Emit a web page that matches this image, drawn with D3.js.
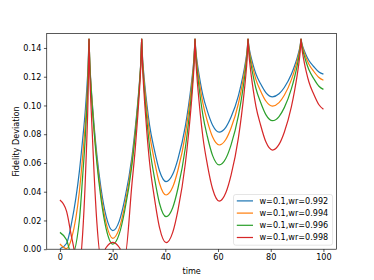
<!DOCTYPE html>
<html><head><meta charset="utf-8">
<script src="https://cdn.jsdelivr.net/npm/d3@7"></script>
<style>html,body{margin:0;padding:0;background:#fff;}</style>
</head><body><div id="chart"></div>
<script>
// ---- data ----
const times = [
 0, 2.5, 4.5, 7.37, 8.6, 9.57, 10.18, 10.67, 11.04,
 11.34, 11.74, 12.24, 13.04, 14.04, 15.55, 17.55, 20.05,
 22.55, 24.55, 27.36, 28.59, 29.56, 30.17, 30.66, 31.03,
 31.33, 31.73, 32.23, 33.03, 34.03, 35.8, 37.8, 40.3,
 42.8, 44.8, 47.6, 48.83, 49.8, 50.41, 50.9, 51.27,
 51.57, 51.97, 52.47, 53.27, 54.27, 55.95, 57.95, 60.45,
 62.95, 64.95, 67.72, 68.95, 69.92, 70.53, 71.02, 71.39,
 71.69, 72.09, 72.59, 73.39, 74.39, 76.15, 78.15, 80.65,
 83.15, 85.15, 87.83, 89.06, 90.03, 90.64, 91.13, 91.5,
 91.8, 92.2, 92.7, 93.5, 94.5, 96.3, 98.3, 100
];
const peakTimes = [11.04, 31.03, 51.27, 71.39, 91.5];

const wr0992 = [
 0.0003, 0.004, 0.019, 0.054, 0.076, 0.095, 0.111, 0.127, 0.1464,
 0.1297, 0.1162, 0.1027, 0.0845, 0.0654, 0.0429, 0.0228, 0.0129,
 0.0197, 0.0343, 0.0647, 0.0842, 0.1025, 0.1160, 0.1293, 0.1464,
 0.1340, 0.1239, 0.1139, 0.1003, 0.0861, 0.0694, 0.0544, 0.047,
 0.0521, 0.0629, 0.0856, 0.1001, 0.1137, 0.1237, 0.1337, 0.1464,
 0.1383, 0.1317, 0.1252, 0.1163, 0.1070, 0.0961, 0.0863, 0.0815,
 0.0848, 0.0919, 0.1067, 0.1162, 0.1250, 0.1316, 0.1381, 0.1464,
 0.1414, 0.1373, 0.1332, 0.1277, 0.1219, 0.1151, 0.1090, 0.106,
 0.1081, 0.1125, 0.1217, 0.1276, 0.1331, 0.1372, 0.1412, 0.1464,
 0.1433, 0.1408, 0.1383, 0.1348, 0.1313, 0.1271, 0.1233, 0.1218
];
const wr0994 = [
 0.0036, 0.0004, 0.008, 0.040, 0.064, 0.086, 0.103, 0.122, 0.1464,
 0.1291, 0.1150, 0.1010, 0.0820, 0.0621, 0.0388, 0.0179, 0.0076,
 0.0147, 0.0298, 0.0615, 0.0817, 0.1007, 0.1148, 0.1286, 0.1464,
 0.1328, 0.1218, 0.1109, 0.0960, 0.0804, 0.0622, 0.0457, 0.0377,
 0.0432, 0.0551, 0.0799, 0.0957, 0.1106, 0.1216, 0.1325, 0.1464,
 0.1372, 0.1297, 0.1222, 0.1121, 0.1015, 0.0891, 0.0780, 0.0725,
 0.0763, 0.0843, 0.1012, 0.1120, 0.1221, 0.1296, 0.1369, 0.1464,
 0.1406, 0.1358, 0.1311, 0.1247, 0.1180, 0.1101, 0.1031, 0.0996,
 0.1020, 0.1071, 0.1178, 0.1246, 0.1310, 0.1357, 0.1404, 0.1464,
 0.1428, 0.1398, 0.1369, 0.1329, 0.1287, 0.1238, 0.1194, 0.1175
];
const wr0996 = [
 0.0117, 0.0065, -0.004, 0.020, 0.050, 0.076, 0.097, 0.119, 0.1464,
 0.1285, 0.1141, 0.0997, 0.0801, 0.0597, 0.0357, 0.0141, 0.0035,
 0.0108, 0.0264, 0.0589, 0.0798, 0.0994, 0.1138, 0.1281, 0.1464,
 0.1309, 0.1184, 0.1059, 0.0890, 0.0713, 0.0505, 0.0318, 0.0226,
 0.0289, 0.0424, 0.0706, 0.0887, 0.1057, 0.1182, 0.1306, 0.1464,
 0.1354, 0.1266, 0.1177, 0.1057, 0.0931, 0.0784, 0.0651, 0.0586,
 0.0631, 0.0726, 0.0927, 0.1055, 0.1175, 0.1264, 0.1352, 0.1464,
 0.1393, 0.1335, 0.1278, 0.1200, 0.1118, 0.1022, 0.0936, 0.0894,
 0.0923, 0.0985, 0.1115, 0.1198, 0.1276, 0.1334, 0.1391, 0.1464,
 0.1420, 0.1384, 0.1348, 0.1299, 0.1248, 0.1188, 0.1134, 0.1112
];
const wr0998 = [
 0.0342, 0.0265, 0.0078, -0.012, 0.010, 0.045, 0.075, 0.105, 0.1464,
 0.122, 0.102, 0.082, 0.050, 0.018, -0.006, 0.0012, 0.0048,
 0.0012, -0.006, 0.046, 0.070, 0.093, 0.110, 0.126, 0.1464,
 0.1287, 0.1143, 0.1000, 0.0806, 0.0603, 0.0364, 0.0150, 0.0045,
 0.0117, 0.0272, 0.0596, 0.0803, 0.0997, 0.1140, 0.1282, 0.1464,
 0.1323, 0.1209, 0.1095, 0.0940, 0.0779, 0.0589, 0.0419, 0.0335,
 0.0393, 0.0516, 0.0773, 0.0938, 0.1093, 0.1207, 0.1319, 0.1464,
 0.1367, 0.1289, 0.1211, 0.1105, 0.0994, 0.0864, 0.0747, 0.069,
 0.0729, 0.0814, 0.0990, 0.1103, 0.1209, 0.1288, 0.1365, 0.1464,
 0.1402, 0.1352, 0.1302, 0.1234, 0.1163, 0.1080, 0.1005, 0.0973
];
const labels = ["w=0.1,wr=0.992", "w=0.1,wr=0.994", "w=0.1,wr=0.996", "w=0.1,wr=0.998"];
const xTicks = [0, 20, 40, 60, 80, 100];
const yTicks = [0, 0.02, 0.04, 0.06, 0.08, 0.10, 0.12, 0.14];
const xTitle = "time";
const yTitle = "Fidelity Deviation";

// ---- drawing ----
const seriesList = [wr0992, wr0994, wr0996, wr0998];
const colors = ["#1f77b4", "#ff7f0e", "#2ca02c", "#d62728"];
const W = 374, H = 280;
const M = {l: 46.75, r: 336.6, t: 33.6, b: 249.2};
const FS = 8.1;

const svg = d3.select("#chart").append("svg")
  .attr("width", W).attr("height", H)
  .style("font-family", "'DejaVu Sans', sans-serif");
svg.append("rect").attr("width", W).attr("height", H).attr("fill", "#fff");

const x = d3.scaleLinear().domain([-5, 105]).range([M.l, M.r]);
const y = d3.scaleLinear().domain([0, 0.15]).range([M.b, M.t]);

svg.append("clipPath").attr("id", "plotclip").append("rect")
  .attr("x", M.l).attr("y", M.t).attr("width", M.r - M.l).attr("height", M.b - M.t);

const line = d3.line().x(d => x(d[0])).y(d => y(d[1])).curve(d3.curveMonotoneX);
const plot = svg.append("g").attr("clip-path", "url(#plotclip)");

seriesList.forEach((vals, si) => {
  // split into segments at the cusps so each peak stays sharp
  const segs = [];
  let cur = [];
  times.forEach((t, i) => {
    cur.push([t, vals[i]]);
    if (peakTimes.includes(t) && i < times.length - 1) {
      segs.push(cur);
      cur = [[t, vals[i]]];
    }
  });
  segs.push(cur);
  const pathStr = segs.map(s => line(s)).join("");
  plot.append("path").attr("d", pathStr)
    .attr("fill", "none").attr("stroke", colors[si])
    .attr("stroke-width", 1.22).attr("stroke-linejoin", "round").attr("stroke-linecap", "butt");
});

// axes
const xAxis = d3.axisBottom(x).tickValues(xTicks).tickSize(2.84).tickPadding(2.6).tickFormat(d3.format("d"));
const yAxis = d3.axisLeft(y).tickValues(yTicks).tickSize(2.84).tickPadding(2.6).tickFormat(d3.format(".2f"));
const gx = svg.append("g").attr("transform", `translate(0,${M.b})`).call(xAxis);
const gy = svg.append("g").attr("transform", `translate(${M.l},0)`).call(yAxis);
[gx, gy].forEach(g => {
  g.select(".domain").remove();
  g.selectAll(".tick line").attr("stroke", "#000").attr("stroke-width", 0.65);
  g.selectAll(".tick text").attr("fill", "#000").style("font-size", FS + "px")
    .style("font-family", "'DejaVu Sans', sans-serif");
});

// spines
svg.append("rect").attr("x", M.l).attr("y", M.t)
  .attr("width", M.r - M.l).attr("height", M.b - M.t)
  .attr("fill", "none").attr("stroke", "#000").attr("stroke-width", 0.65);

// axis titles
svg.append("text").attr("x", (M.l + M.r) / 2).attr("y", 273.5)
  .attr("text-anchor", "middle").style("font-size", FS + "px").text(xTitle);
svg.append("text").attr("transform", `translate(18.5,${(M.t + M.b) / 2}) rotate(-90)`)
  .attr("text-anchor", "middle").style("font-size", FS + "px").text(yTitle);

// legend
const lg = svg.append("g");
lg.append("rect").attr("x", 233.5).attr("y", 194.5).attr("width", 332.6 - 233.5).attr("height", 245.2 - 194.5)
  .attr("rx", 2.3).attr("fill", "#fff").attr("fill-opacity", 0.8)
  .attr("stroke", "#cccccc").attr("stroke-opacity", 0.8).attr("stroke-width", 0.65);
labels.forEach((lab, i) => {
  const by = 203.8 + i * 12.2;
  lg.append("line").attr("x1", 236.8).attr("x2", 253.0).attr("y1", by - 2.9).attr("y2", by - 2.9)
    .attr("stroke", colors[i]).attr("stroke-width", 1.22);
  lg.append("text").attr("x", 259.5).attr("y", by).style("font-size", FS + "px").text(lab);
});
</script>
</body></html>
